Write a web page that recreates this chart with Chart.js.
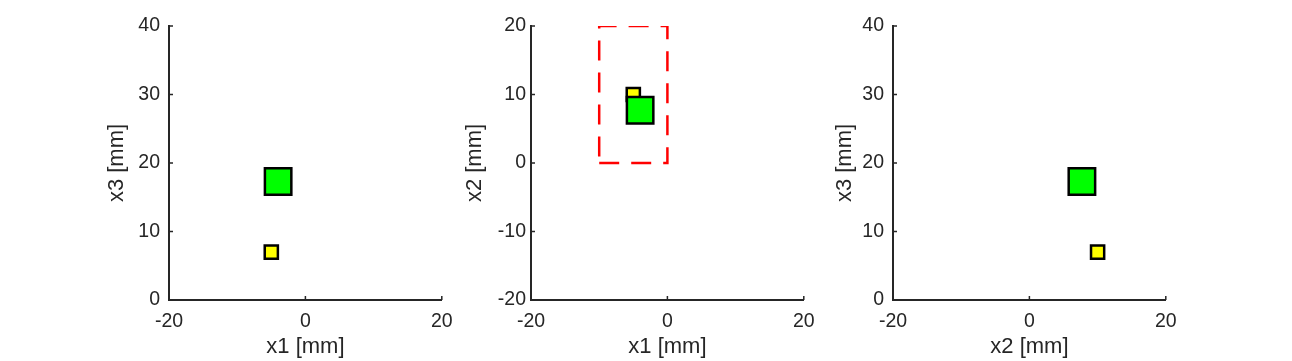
<!DOCTYPE html>
<html>
<head>
<meta charset="utf-8">
<script src="https://cdn.jsdelivr.net/npm/chart.js@4"></script>
<style>
  body { margin: 0; background: #fff; }
  #wrap { position: relative; width: 1292px; height: 361px; }
  #wrap canvas { position: absolute; top: 0; }
</style>
</head>
<body>
<div id="wrap">
  <canvas id="c1" width="383" height="361" style="left:80px"></canvas>
  <canvas id="c2" width="383" height="361" style="left:442px"></canvas>
  <canvas id="c3" width="383" height="361" style="left:804px"></canvas>
</div>
<script>
// posicoes dos dois marcadores (grande verde, pequeno amarelo) em mm
var markerNames = ['large', 'small'];
var x1Values = [-4, -5];
var x2Values = [7.7, 10];
var x3Values = [17.3, 7];

// retangulo tracejado no plano x1-x2
var boxX1 = [-10, 0, 0, -10, -10];
var boxX2 = [0, 0, 20, 20, 0];

// ticks
var xTicks = [-20, 0, 20];
var x3Ticks = [0, 10, 20, 30, 40];
var x2Ticks = [-20, -10, 0, 10, 20];

var axisColor = '#262626';
Chart.defaults.font.family = '"Liberation Sans", Arial, Helvetica, sans-serif';
Chart.defaults.color = axisColor;

function pts(xs, ys) {
    return xs.map(function (v, i) { return { x: v, y: ys[i] }; });
}

// ticks para dentro, estilo matlab
var innerTicks = {
    id: 'innerTicks',
    afterDraw: function (chart) {
        var ctx = chart.ctx;
        var xs = chart.scales.x, ys = chart.scales.y;
        ctx.save();
        ctx.strokeStyle = axisColor;
        ctx.lineWidth = 1.5;
        ctx.beginPath();
        xs.ticks.forEach(function (t) {
            var px = xs.getPixelForValue(t.value);
            ctx.moveTo(px, ys.bottom);
            ctx.lineTo(px, ys.bottom - 4);
        });
        ys.ticks.forEach(function (t) {
            var py = ys.getPixelForValue(t.value);
            ctx.moveTo(xs.left, py);
            ctx.lineTo(xs.left + 4, py);
        });
        ctx.stroke();
        ctx.restore();
    }
};

function makeChart(id, xs, ys, xLabel, yLabel, yTicks, yPad, titlePad, extra) {
    var datasets = [
        {
            label: markerNames[0],
            data: [pts(xs, ys)[0]],
            pointStyle: 'rect',
            pointRadius: 18.7,
            pointBackgroundColor: '#00ff00',
            pointBorderColor: '#000000',
            pointBorderWidth: 2.5
        },
        {
            label: markerNames[1],
            data: [pts(xs, ys)[1]],
            pointStyle: 'rect',
            pointRadius: 9.3,
            pointBackgroundColor: '#ffff00',
            pointBorderColor: '#000000',
            pointBorderWidth: 2.5
        }
    ].concat(extra || []);

    new Chart(document.getElementById(id).getContext('2d'), {
        type: 'scatter',
        data: { datasets: datasets },
        options: {
            responsive: false,
            animation: false,
            layout: { padding: { top: 26, right: 20, left: 0, bottom: 0 } },
            plugins: { legend: { display: false }, tooltip: { enabled: false } },
            scales: {
                x: {
                    type: 'linear',
                    min: xTicks[0],
                    max: xTicks[xTicks.length - 1],
                    afterBuildTicks: function (s) { s.ticks = xTicks.map(function (v) { return { value: v }; }); },
                    afterFit: function (s) { s.height = 61; s.paddingLeft = 0; s.paddingRight = 0; },
                    grid: { display: false, drawTicks: false },
                    border: { display: true, color: axisColor, width: 2 },
                    ticks: { font: { size: 19.5 }, color: axisColor, padding: 9.5, maxRotation: 0 },
                    title: { display: true, text: xLabel, font: { size: 22 }, color: axisColor, padding: { top: 0, bottom: 1 } }
                },
                y: {
                    type: 'linear',
                    min: yTicks[0],
                    max: yTicks[yTicks.length - 1],
                    afterBuildTicks: function (s) { s.ticks = yTicks.map(function (v) { return { value: v }; }); },
                    afterFit: function (s) { s.width = 89; s.paddingTop = 0; s.paddingBottom = 0; },
                    grid: { display: false, drawTicks: false },
                    border: { display: true, color: axisColor, width: 2 },
                    ticks: { font: { size: 19.5 }, color: axisColor, padding: yPad },
                    title: { display: true, text: yLabel, font: { size: 22 }, color: axisColor, padding: { top: titlePad, bottom: 0 } }
                }
            }
        },
        plugins: [innerTicks]
    });
}

makeChart('c1', x1Values, x3Values, 'x1 [mm]', 'x3 [mm]', x3Ticks, 9, 24);
makeChart('c2', x1Values, x2Values, 'x1 [mm]', 'x2 [mm]', x2Ticks, 5, 20, [{
    label: 'box',
    data: pts(boxX1, boxX2),
    showLine: true,
    borderColor: '#ff0000',
    borderWidth: 2.5,
    borderDash: [20, 12],
    pointRadius: 0,
    fill: false
}]);
makeChart('c3', x2Values, x3Values, 'x2 [mm]', 'x3 [mm]', x3Ticks, 9, 28);
</script>
</body>
</html>
